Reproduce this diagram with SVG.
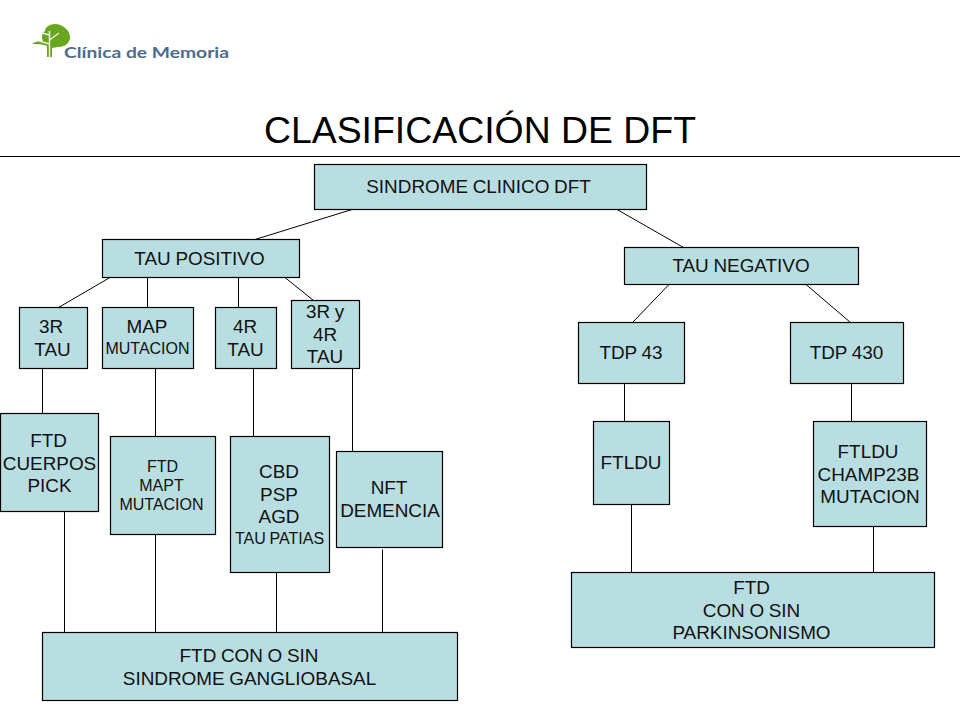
<svg xmlns="http://www.w3.org/2000/svg" width="960" height="720" viewBox="0 0 960 720">
<style>
.b{fill:#b9dee2;stroke:#000;stroke-width:1.200}
.c line{stroke:#000;stroke-width:1}
text{font-family:"Liberation Sans",Arial,sans-serif;font-size:18.900px;fill:#111;text-anchor:middle;word-spacing:-.6px}
.s{font-size:16px}
.t{font-size:37.400px;fill:#000;word-spacing:0}
</style>
<rect width="960" height="720" fill="#fff"/>
<g id="logo">
<path d="M32 44C36 41 40 41 43 41C41 37 42 33 45 31C45 27 50 24 55 24C62 24 70 30 70 37C70 43 65 47 58 47L52 48L52 57L47 57L47 46C42 44 37 44 32 44Z" fill="#6aa51f"/>
<path d="M49.500 57V31M49.500 44L39 41M49.500 40L59 33M49.500 35L42 33" stroke="#e8f2d8" stroke-width="1.500" fill="none"/>
<text x="146.500" y="58" textLength="165" lengthAdjust="spacingAndGlyphs" style="font-family:Lato,sans-serif;font-size:16px;font-weight:bold;fill:#4d6c8c;word-spacing:0">Clínica de Memoria</text>
</g>
<g id="title"><text class="t" x="480" y="142.500">CLASIFICACIÓN DE DFT</text><line x1="0" y1="156.500" x2="960" y2="156.500" stroke="#000" stroke-width="1.200"/></g>
<g class="c" id="connectors">
<line x1="352" y1="209.500" x2="255" y2="239.500"/><line x1="617" y1="209.500" x2="683.500" y2="247.500"/>
<line x1="58.500" y1="307.500" x2="110" y2="277.500"/><line x1="147.500" y1="277.500" x2="147.500" y2="307.500"/><line x1="238.500" y1="277.500" x2="238.500" y2="307.500"/><line x1="285" y1="277.500" x2="313.500" y2="300.500"/>
<line x1="669" y1="284.500" x2="632.500" y2="322.500"/><line x1="806" y1="284.500" x2="850.500" y2="322.500"/>
<line x1="42.500" y1="368.500" x2="42.500" y2="413.500"/><line x1="155.500" y1="368.500" x2="155.500" y2="436.500"/><line x1="253.500" y1="368.500" x2="253.500" y2="436.500"/><line x1="352.500" y1="368.500" x2="352.500" y2="451.500"/>
<line x1="64.500" y1="511.500" x2="64.500" y2="632.500"/><line x1="155.500" y1="534.500" x2="155.500" y2="632.500"/><line x1="276.500" y1="572.500" x2="276.500" y2="632.500"/><line x1="382.500" y1="549.500" x2="382.500" y2="632.500"/>
<line x1="624.500" y1="383.500" x2="624.500" y2="421.500"/><line x1="851.500" y1="383.500" x2="851.500" y2="421.500"/><line x1="631.500" y1="504.500" x2="631.500" y2="572.500"/><line x1="873.500" y1="526.500" x2="873.500" y2="572.500"/>
</g>
<g id="n1"><rect class="b" x="314.500" y="164.500" width="332" height="45"/><text x="478.500" y="193">SINDROME CLINICO DFT</text></g>
<g id="n2"><rect class="b" x="102.500" y="239.500" width="197" height="38"/><text x="199.500" y="265">TAU POSITIVO</text></g>
<g id="n3"><rect class="b" x="624.500" y="247.500" width="234" height="37"/><text x="741" y="271.500">TAU NEGATIVO</text></g>
<g id="n4"><rect class="b" x="19.500" y="307.500" width="68" height="61"/><text x="51" y="333">3R</text><text x="52.500" y="356">TAU</text></g>
<g id="n5"><rect class="b" x="102.500" y="307.500" width="91" height="61"/><text x="147" y="333">MAP</text><text class="s" x="147.500" y="354">MUTACION</text></g>
<g id="n6"><rect class="b" x="215.500" y="307.500" width="61" height="61"/><text x="245" y="333">4R</text><text x="245.500" y="356">TAU</text></g>
<g id="n7"><rect class="b" x="291.500" y="300.500" width="68" height="68"/><text x="325" y="318">3R y</text><text x="325" y="341">4R</text><text x="325" y="363">TAU</text></g>
<g id="n8"><rect class="b" x="578.500" y="322.500" width="106" height="61"/><text x="631" y="358.500">TDP 43</text></g>
<g id="n9"><rect class="b" x="790.500" y="322.500" width="113" height="61"/><text x="846.500" y="358.500">TDP 430</text></g>
<g id="n10"><rect class="b" x="0.500" y="413.500" width="98" height="98"/><text x="48.500" y="447">FTD</text><text x="49.500" y="469.500">CUERPOS</text><text x="49.500" y="491.500">PICK</text></g>
<g id="n11"><rect class="b" x="110.500" y="436.500" width="105" height="98"/><text class="s" x="162.500" y="472">FTD</text><text class="s" x="161.500" y="491">MAPT</text><text class="s" x="161.500" y="510">MUTACION</text></g>
<g id="n12"><rect class="b" x="230.500" y="436.500" width="99" height="136"/><text x="279" y="477.500">CBD</text><text x="279" y="500.500">PSP</text><text x="279" y="522.500">AGD</text><text class="s" x="279.500" y="543.500">TAU PATIAS</text></g>
<g id="n13"><rect class="b" x="336.500" y="451.500" width="106" height="96"/><text x="389" y="493.500">NFT</text><text x="390" y="516.500">DEMENCIA</text></g>
<g id="n14"><rect class="b" x="593.500" y="421.500" width="76" height="83"/><text x="631" y="468.500">FTLDU</text></g>
<g id="n15"><rect class="b" x="813.500" y="421.500" width="113" height="105"/><text x="868" y="458">FTLDU</text><text x="868.500" y="480.500">CHAMP23B</text><text x="870" y="502.500">MUTACION</text></g>
<g id="n16"><rect class="b" x="42.500" y="632.500" width="415" height="68"/><text x="249" y="661.500">FTD CON O SIN</text><text x="249.500" y="685">SINDROME GANGLIOBASAL</text></g>
<g id="n17"><rect class="b" x="571.500" y="572.500" width="363" height="75"/><text x="751.500" y="593.500">FTD</text><text x="751.500" y="616.500">CON O SIN</text><text x="751.500" y="638.500">PARKINSONISMO</text></g>
</svg>
